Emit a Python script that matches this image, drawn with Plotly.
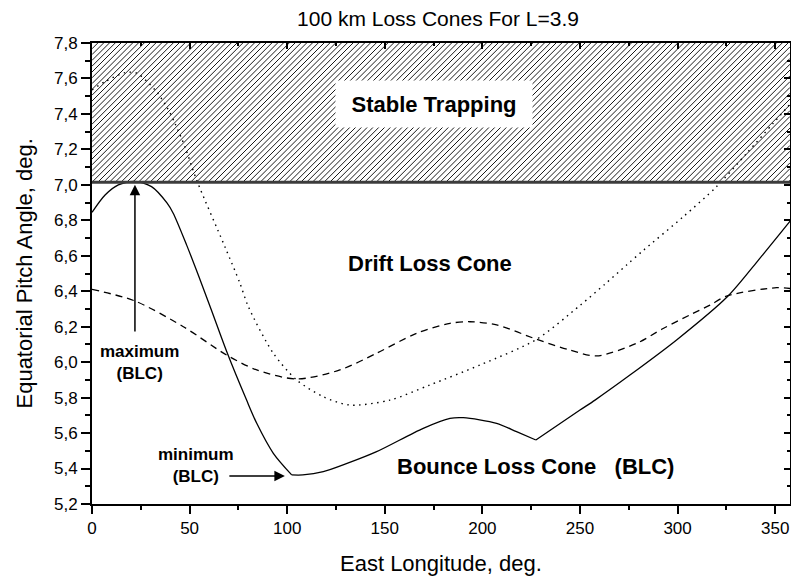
import plotly.graph_objects as go

# ---- data -------------------------------------------------------------
# Bounce loss cone (solid); kinks at the BLC minimum and at ~227 deg
blc_lon = [0, 6.7, 13.5, 22, 30.5, 38.4, 41.6, 48.5, 54.5, 61.3, 69, 79.2, 84.4, 92.9, 102.3,
           108, 118.5, 131, 145.8, 169.7, 183.4, 190.2, 207.3, 217.5, 227.4,
           250, 257.7, 275.6, 299.5, 325.6, 341, 358]
blc_val = [6.845, 6.943, 7.0, 7.02, 6.99, 6.898, 6.84, 6.66, 6.49, 6.29, 6.06, 5.786, 5.655, 5.486, 5.364,
           5.364, 5.382, 5.43, 5.495, 5.627, 5.683, 5.687, 5.655, 5.608, 5.561,
           5.73, 5.786, 5.927, 6.125, 6.37, 6.57, 6.80]
blc_kinks = [14, 24]  # indices where the curve has a corner

# Dashed curve
dash_lon = [0, 22, 46.8, 69, 84.4, 104.8, 127, 145.8, 166.3, 183.4, 193.6, 207.3,
            227.8, 244.8, 258.5, 279, 292.6, 306.3, 316.6, 325.1, 350.7, 358]
dash_val = [6.411, 6.345, 6.2, 6.04, 5.956, 5.905, 5.956, 6.05, 6.163, 6.219, 6.228, 6.21,
            6.129, 6.068, 6.035, 6.106, 6.19, 6.266, 6.322, 6.373, 6.42, 6.415]

# Dotted curve
dot_lon = [0, 6.7, 16.9, 22.9, 32.3, 38.3, 42.5, 47.6, 53.6, 68.1, 75.8, 80.1, 92.9,
           104.8, 118.5, 132.2, 152.6, 173, 198.8, 227.8, 250, 262.8, 273.9, 282.4,
           302.9, 320, 335.4, 349, 358]
dot_val = [7.535, 7.582, 7.633, 7.63, 7.535, 7.44, 7.347, 7.215, 7.027, 6.651, 6.445, 6.313, 6.05,
           5.90, 5.805, 5.758, 5.786, 5.871, 5.984, 6.129, 6.32, 6.44, 6.548, 6.63,
           6.82, 6.99, 7.178, 7.347, 7.46]

# Stable trapping band
trap_floor = 7.014
y_range = [5.2, 7.8]
x_range = [0, 357.6]
x_ticks = [0, 50, 100, 150, 200, 250, 300, 350]

FONT = "Arial, Liberation Sans, sans-serif"
W, H = 791, 578
MARGIN = dict(l=92, r=1, t=43, b=74)

fig = go.Figure()

# ---- hatching for the stable-trapping band (45 deg lines in screen space) ----
plot_w = W - MARGIN["l"] - MARGIN["r"]
plot_h = H - MARGIN["t"] - MARGIN["b"]
sx = plot_w / (x_range[1] - x_range[0])      # px per degree of longitude
sy = plot_h / (y_range[1] - y_range[0])      # px per degree of pitch angle
band_w = (x_range[1] - x_range[0]) * sx
band_h = (y_range[1] - trap_floor) * sy
spacing = 5.8
hx, hy = [], []
c = -band_h
while c < band_w:
    u0 = max(0.0, c)
    u1 = min(band_w, c + band_h)
    if u1 > u0:
        for u in (u0, u1):
            hx.append(x_range[0] + u / sx)
            hy.append(trap_floor + (u - c) / sy)
        hx.append(None)
        hy.append(None)
    c += spacing
fig.add_trace(go.Scatter(x=hx, y=hy, mode="lines",
                         line=dict(color="black", width=0.9),
                         hoverinfo="skip", showlegend=False))

# solid BLC curve, drawn piecewise so the corners stay sharp
cuts = [0] + blc_kinks + [len(blc_lon) - 1]
for a, b in zip(cuts[:-1], cuts[1:]):
    fig.add_trace(go.Scatter(
        x=blc_lon[a:b + 1], y=blc_val[a:b + 1], mode="lines",
        line=dict(color="black", width=1.3, shape="spline", smoothing=0.8),
        hoverinfo="skip", showlegend=False))

fig.add_trace(go.Scatter(
    x=dash_lon, y=dash_val, mode="lines",
    line=dict(color="black", width=1.3, dash="7px,5px", shape="spline", smoothing=0.8),
    hoverinfo="skip", showlegend=False))

fig.add_trace(go.Scatter(
    x=dot_lon, y=dot_val, mode="lines",
    line=dict(color="black", width=1.4, dash="1.5px,4.5px", shape="spline", smoothing=0.8),
    hoverinfo="skip", showlegend=False))

# lower edge of the band
fig.add_trace(go.Scatter(
    x=x_range, y=[trap_floor, trap_floor], mode="lines",
    line=dict(color="#3c3c3c", width=3),
    hoverinfo="skip", showlegend=False))

# invisible trace that carries the mirrored top/right axes
fig.add_trace(go.Scatter(x=x_range, y=y_range, xaxis="x2", yaxis="y2",
                         mode="markers", marker=dict(opacity=0),
                         hoverinfo="skip", showlegend=False))

bold_big = dict(family=FONT, size=22, color="black")
bold_small = dict(family=FONT, size=17, color="black")

annotations = [
    dict(x=175.3, y=7.456, text="<b>Stable Trapping</b>", showarrow=False,
         font=bold_big, bgcolor="white", width=196, height=46, borderpad=0),
    dict(x=173.2, y=6.559, text="<b>Drift Loss Cone</b>", showarrow=False, font=bold_big),
    dict(x=227.4, y=5.409, text="<b>Bounce Loss Cone\u00a0\u00a0\u00a0(BLC)</b>",
         showarrow=False, font=bold_big),
    dict(x=24.3, y=5.998, text="<b>maximum<br>(BLC)</b>", showarrow=False,
         font=bold_small, xanchor="center", yanchor="middle"),
    dict(x=53.4, y=5.417, text="<b>minimum<br>(BLC)</b>", showarrow=False,
         font=bold_small, xanchor="center", yanchor="middle"),
    # arrows
    dict(x=22, y=7.0, ax=22, ay=6.165, axref="x", ayref="y", text="",
         showarrow=True, arrowhead=2, arrowsize=1.4, arrowwidth=1.5, arrowcolor="black",
         standoff=0, startstandoff=0),
    dict(x=98.8, y=5.358, ax=69.6, ay=5.358, axref="x", ayref="y", text="",
         showarrow=True, arrowhead=2, arrowsize=1.4, arrowwidth=1.5, arrowcolor="black",
         standoff=0, startstandoff=0),
    # axis titles
    dict(x=0.5, y=0, xref="paper", yref="paper", yshift=-59, yanchor="middle",
         xanchor="center", text="East Longitude, deg.", showarrow=False,
         font=dict(family=FONT, size=22, color="black")),
    dict(x=-0.0974, y=0.5, xref="paper", yref="paper", textangle=-90,
         xanchor="center", yanchor="middle",
         text="Equatorial Pitch Angle, deg.", showarrow=False,
         font=dict(family=FONT, size=22, color="black")),
]

axis_common = dict(showline=True, linecolor="black", linewidth=2,
                   showgrid=False, zeroline=False, tickcolor="black", tickwidth=1.5)

fig.update_layout(
    width=W, height=H,
    margin=MARGIN,
    paper_bgcolor="white", plot_bgcolor="white",
    separators=",.",
    title=dict(text="100 km Loss Cones For L=3.9", x=438 / W, xanchor="center",
               y=1 - 19 / H, yanchor="middle", yref="container",
               font=dict(family=FONT, size=21, color="black")),
    xaxis=dict(range=x_range, tickvals=x_ticks, ticks="outside", ticklen=8,
               minor=dict(ticks="outside", ticklen=4, dtick=25, tick0=0,
                          tickcolor="black", tickwidth=1.5),
               tickfont=dict(family=FONT, size=17, color="black"),
               **axis_common),
    yaxis=dict(range=y_range, dtick=0.2, tick0=5.2, tickformat=".1f",
               ticks="outside", ticklen=9,
               minor=dict(ticks="outside", ticklen=5, dtick=0.1, tick0=5.2,
                          tickcolor="black", tickwidth=1.5),
               tickfont=dict(family=FONT, size=17, color="black"),
               **axis_common),
    xaxis2=dict(range=x_range, overlaying="x", side="top", anchor="y2",
                tickvals=x_ticks, ticks="inside", ticklen=6, showticklabels=False,
                minor=dict(ticks="inside", ticklen=3, dtick=25, tick0=0,
                           tickcolor="black", tickwidth=1.5),
                **axis_common),
    yaxis2=dict(range=y_range, overlaying="y", side="right", anchor="x2",
                dtick=0.2, tick0=5.2, ticks="inside", ticklen=6, showticklabels=False,
                minor=dict(ticks="inside", ticklen=3, dtick=0.1, tick0=5.2,
                           tickcolor="black", tickwidth=1.5),
                **axis_common),
    annotations=annotations,
)

fig.write_html("out.html")
